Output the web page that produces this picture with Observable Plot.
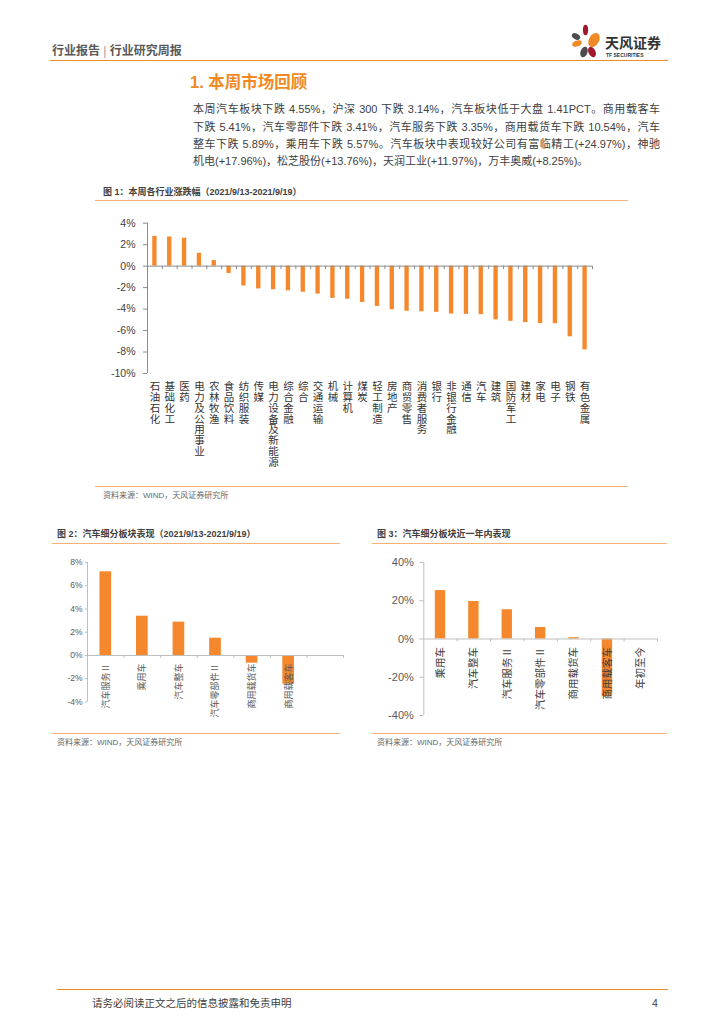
<!DOCTYPE html>
<html><head><meta charset="utf-8">
<script src="https://cdn.jsdelivr.net/npm/d3@7"></script>
<script src="https://cdn.jsdelivr.net/npm/@observablehq/plot@0.6"></script>
<style>
body{margin:0;width:724px;height:1024px;position:relative;background:#fff;overflow:hidden;font-family:"Liberation Sans","Noto Sans CJK SC",sans-serif;color:#404040}
.abs{position:absolute;white-space:nowrap}
.line{position:absolute;height:0}
.ftitle{position:absolute;white-space:nowrap;font-size:9px;font-weight:bold;line-height:12px;color:#404040}
.src{position:absolute;white-space:nowrap;font-size:8px;line-height:12px;color:#666}
.pl{position:absolute;left:193px;width:467px;font-size:11px;line-height:17.3px;color:#404040;text-align:justify;text-align-last:justify}
.chart{position:absolute}
</style></head><body>

<svg class="abs" style="left:0;top:0" width="724" height="70">
  <ellipse cx="585.5" cy="30" rx="2.6" ry="5.2" fill="#A3162F"/>
  <ellipse cx="594" cy="40" rx="5" ry="7.6" transform="rotate(30 594 40)" fill="#F08A24"/>
  <ellipse cx="576" cy="36.5" rx="4.4" ry="2.9" transform="rotate(30 576 36.5)" fill="#4D4D4D"/>
  <ellipse cx="577" cy="43.5" rx="5" ry="3" transform="rotate(-20 577 43.5)" fill="#F08A24"/>
  <ellipse cx="584" cy="52" rx="3.5" ry="5.5" transform="rotate(20 584 52)" fill="#4D4D4D"/>
  <ellipse cx="592" cy="52" rx="3.5" ry="5.5" transform="rotate(-25 592 52)" fill="#A3162F"/>
  <text x="605" y="47.5" font-size="14" font-weight="bold" fill="#333" font-family="'Noto Sans CJK SC',sans-serif">天风证券</text>
  <text x="606" y="57" font-size="5" font-weight="bold" fill="#333" font-family="'Liberation Sans',sans-serif">TF SECURITIES</text>
</svg>

<div class="abs" style="left:52px;top:44px;font-size:12px;font-weight:bold;line-height:14px;color:#595959">行业报告 <span style="font-weight:normal;color:#999">|</span> 行业研究周报</div>
<div class="line" style="left:50px;top:60px;width:618px;border-top:1.5px solid #F08A24"></div>

<div class="abs" style="left:190px;top:72px;font-size:16.5px;font-weight:bold;line-height:20px;color:#F08A24">1. 本周市场回顾</div>
<div class="pl" style="top:101.3px">本周汽车板块下跌 4.55%，沪深 300 下跌 3.14%，汽车板块低于大盘 1.41PCT。商用载客车</div>
<div class="pl" style="top:118.6px">下跌 5.41%，汽车零部件下跌 3.41%，汽车服务下跌 3.35%，商用载货车下跌 10.54%，汽车</div>
<div class="pl" style="top:135.9px">整车下跌 5.89%，乘用车下跌 5.57%。汽车板块中表现较好公司有富临精工(+24.97%)，神驰</div>
<div class="pl" style="top:153.2px;text-align:left;text-align-last:left">机电(+17.96%)，松芝股份(+13.76%)，天润工业(+11.97%)，万丰奥威(+8.25%)。</div>

<div class="ftitle" style="left:103px;top:186px">图 1：本周各行业涨跌幅（2021/9/13-2021/9/19）</div>
<div class="line" style="left:95px;top:200px;width:533px;border-top:1px solid #F6B27A"></div>
<div id="c1" class="chart" style="left:95px;top:210px"></div>
<div class="line" style="left:95px;top:485.5px;width:533px;border-top:1px solid #F6B27A"></div>
<div class="src" style="left:103px;top:490px">资料来源：WIND，天风证券研究所</div>

<div class="ftitle" style="left:57px;top:528px">图 2：汽车细分板块表现（2021/9/13-2021/9/19）</div>
<div class="line" style="left:52px;top:543px;width:288px;border-top:1px solid #F6B27A"></div>
<div id="c2" class="chart" style="left:52px;top:552px"></div>
<div class="line" style="left:52px;top:733px;width:288px;border-top:1px solid #F6B27A"></div>
<div class="src" style="left:57px;top:737px">资料来源：WIND，天风证券研究所</div>

<div class="ftitle" style="left:377px;top:528px">图 3：汽车细分板块近一年内表现</div>
<div class="line" style="left:372px;top:543px;width:295px;border-top:1px solid #F6B27A"></div>
<div id="c3" class="chart" style="left:372px;top:552px"></div>
<div class="line" style="left:372px;top:733px;width:295px;border-top:1px solid #F6B27A"></div>
<div class="src" style="left:377px;top:737px">资料来源：WIND，天风证券研究所</div>

<div class="line" style="left:57px;top:989px;width:611px;border-top:1.5px solid #F08A24"></div>
<div class="abs" style="left:92px;top:996px;font-size:10.5px;line-height:14px;color:#404040">请务必阅读正文之后的信息披露和免责申明</div>
<div class="abs" style="left:652px;top:996px;font-size:10.5px;line-height:14px;color:#404040">4</div>

<script>
// ---- Chart 1 data ----
const industries = ["石油石化","基础化工","医药","电力及公用事业","农林牧渔","食品饮料","纺织服装","传媒","电力设备及新能源","综合金融","综合","交通运输","机械","计算机","煤炭","轻工制造","房地产","商贸零售","消费者服务","银行","非银行金融","通信","汽车","建筑","国防军工","建材","家电","电子","钢铁","有色金属"];
const industryChange = [2.77,2.71,2.6,1.2,0.52,-0.68,-1.85,-2.12,-2.2,-2.3,-2.43,-2.6,-3.0,-3.08,-3.38,-3.75,-4.06,-4.2,-4.25,-4.3,-4.46,-4.49,-4.52,-5.0,-5.14,-5.26,-5.35,-5.36,-6.58,-7.8];
const yTicks1 = [-10,-8,-6,-4,-2,0,2,4];

// ---- Chart 2 data ----
const sectors2 = ["汽车服务Ⅱ","乘用车","汽车整车","汽车零部件Ⅱ","商用载货车","商用载客车",""];
const weekChange2 = [7.2,3.38,2.87,1.49,-0.66,-2.46,null];
const yTicks2 = [-4,-2,0,2,4,6,8];

// ---- Chart 3 data ----
const sectors3 = ["乘用车","汽车整车","汽车服务Ⅱ","汽车零部件Ⅱ","商用载货车","商用载客车","年初至今"];
const yearChange3 = [25.3,19.6,15.3,6.0,0.7,-30.2,null];
const yTicks3 = [-40,-20,0,20,40];

const fontStack = "'Liberation Sans','Noto Sans CJK SC',sans-serif";
const barColor = "#F5882D";
const pct = d => d + "%";

function rows(names, values) {
  return names.map((name, i) => ({i, name, v: values[i]}));
}

// Chart 1
{
  const data = rows(industries, industryChange);
  const n = industries.length;
  const svg = Plot.plot({
    width: 533, height: 265,
    marginLeft: 52, marginRight: 36, marginTop: 12.7, marginBottom: 102,
    x: {domain: [0, n], axis: null},
    y: {domain: [d3.min(yTicks1), d3.max(yTicks1)]},
    style: {fontFamily: fontStack, fontSize: "10.5px", color: "#404040", background: "transparent", overflow: "visible"},
    marks: [
      Plot.rectY(data, {x1: "i", x2: d => d.i + 1, y1: 0, y2: "v", insetLeft: 5.25, insetRight: 5.25, fill: barColor}),
      Plot.ruleY([0], {stroke: "#8c8c8c"}),
      Plot.ruleX([0], {stroke: "#8c8c8c"}),
      Plot.ruleX(d3.range(1, n + 1), {y1: 0, y2: 0, insetBottom: -3.5, stroke: "#8c8c8c"}),
      Plot.axisY(yTicks1, {tickFormat: pct, tickSize: 4, tickPadding: 8, fontSize: 10.5, stroke: "#8c8c8c", fill: "#404040", label: null}),
      Plot.text(data, {x: d => d.i + 0.5, text: d => Array.from(d.name).join("\n"), frameAnchor: "bottom", lineAnchor: "top", dy: 9, fontSize: 10.5, lineHeight: 1.03, fill: "#333"})
    ]
  });
  document.getElementById("c1").appendChild(svg);
}

function smallChart(el, names, values, ticks, opts) {
  const data = rows(names, values);
  const bars = data.filter(d => d.v != null);
  const n = names.length;
  const svg = Plot.plot({
    width: opts.width, height: opts.height,
    marginLeft: opts.marginLeft, marginRight: opts.marginRight, marginTop: opts.marginTop, marginBottom: opts.marginBottom,
    x: {domain: [0, n], axis: null},
    y: {domain: [d3.min(ticks), d3.max(ticks)]},
    style: {fontFamily: fontStack, fontSize: opts.tickFont + "px", color: "#595959", background: "transparent", overflow: "visible"},
    marks: [
      Plot.rectY(bars, {x1: "i", x2: d => d.i + 1, y1: 0, y2: "v", insetLeft: opts.inset, insetRight: opts.inset, fill: barColor}),
      Plot.ruleY([0], {stroke: "#BFBFBF"}),
      Plot.ruleX([0], {stroke: "#BFBFBF"}),
      Plot.ruleX(d3.range(1, n + 1), {y1: 0, y2: 0, insetBottom: -3, stroke: "#BFBFBF"}),
      Plot.axisY(ticks, {tickFormat: pct, tickSize: opts.tickSize, tickPadding: opts.tickPadding, fontSize: opts.tickFont, stroke: "#BFBFBF", fill: "#595959", label: null}),
      Plot.text(data, {x: d => d.i + 0.5, y: 0, text: "name", rotate: -90, textAnchor: "end", dy: 8, fontSize: opts.labelFont, fill: opts.labelColor})
    ]
  });
  document.getElementById(el).appendChild(svg);
}

smallChart("c2", sectors2, weekChange2, yTicks2, {
  width: 295, height: 180, marginLeft: 35, marginRight: 4, marginTop: 10, marginBottom: 30.5,
  inset: 12.45, tickSize: 2, tickPadding: 3, tickFont: 8.5, labelFont: 9, labelColor: "#595959"
});
smallChart("c3", sectors3, yearChange3, yTicks3, {
  width: 290, height: 175, marginLeft: 51.3, marginRight: 5, marginTop: 10, marginBottom: 12,
  inset: 11.5, tickSize: 4, tickPadding: 6, tickFont: 11, labelFont: 10.5, labelColor: "#404040"
});
</script>
</body></html>
